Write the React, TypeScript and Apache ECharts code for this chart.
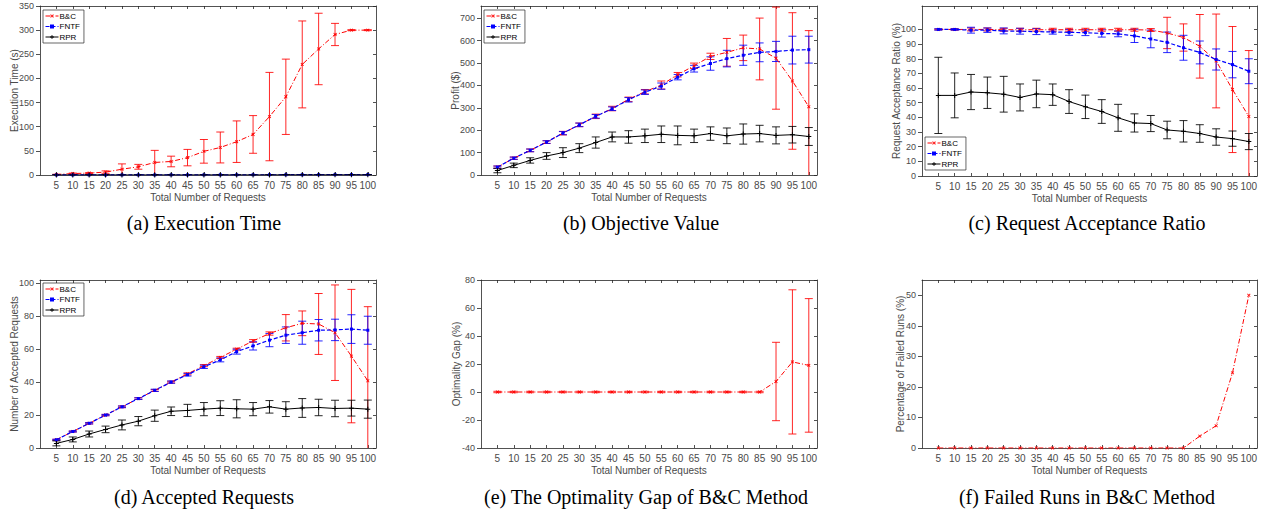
import React, { useEffect, useRef } from "react";
import * as echarts from "echarts";

// ---------------- data ----------------
const requests = [5, 10, 15, 20, 25, 30, 35, 40, 45, 50, 55, 60, 65, 70, 75, 80, 85, 90, 95, 100];

// (a) Execution time (s)
const execBC = [1, 3, 4, 6, 12, 17, 26, 28, 36, 49, 57, 69, 84, 121, 162, 229, 261, 291, 300, 300];
const execBCErr = [0.5, 1, 1, 2.5, 11, 5, 25, 11, 17, 24.5, 32, 43, 39, 91.5, 78, 90, 74, 23, 1, 1];
const execFNTF = [0.1, 0.1, 0.1, 0.1, 0.2, 0.2, 0.2, 0.3, 0.3, 0.3, 0.4, 0.4, 0.5, 0.5, 0.6, 0.6, 0.7, 0.8, 0.8, 0.9];
const execFNTFErr = [0, 0, 0, 0, 0, 0, 0, 0, 0, 0, 0, 0, 0, 0, 0, 0, 0, 0, 0, 0];
const execRPR = [0.05, 0.05, 0.05, 0.1, 0.1, 0.1, 0.1, 0.1, 0.1, 0.2, 0.2, 0.2, 0.2, 0.2, 0.3, 0.3, 0.3, 0.3, 0.3, 0.4];
const execRPRErr = [0, 0, 0, 0, 0, 0, 0, 0, 0, 0, 0, 0, 0, 0, 0, 0, 0, 0, 0, 0];

// (b) Profit ($)
const profitBC = [35, 75, 110, 147, 187, 224, 262, 297, 338, 372, 402, 448, 488, 530, 548, 568, 563, 522, 420, 305];
const profitBCErr = [5, 5, 6, 6, 8, 8, 10, 10, 10, 10, 18, 10, 12, 14, 62, 57, 138, 228, 305, 340];
const profitFNTF = [35, 75, 110, 147, 187, 224, 262, 296, 336, 370, 397, 437, 475, 498, 520, 535, 548, 552, 558, 560];
const profitFNTFErr = [5, 5, 6, 6, 7, 8, 8, 8, 10, 10, 14, 12, 15, 30, 37, 45, 42, 45, 62, 60];
const profitRPR = [20, 43, 65, 85, 100, 120, 145, 170, 170, 175, 182, 177, 175, 185, 175, 183, 185, 177, 180, 172];
const profitRPRErr = [10, 10, 12, 15, 22, 20, 25, 22, 28, 30, 37, 42, 30, 30, 35, 45, 37, 38, 37, 40];

// (c) Request acceptance ratio (%)
const ratioBC = [100, 100, 100, 100, 99.8, 99.8, 99.8, 99.8, 99.8, 99.8, 99.8, 99.8, 99.8, 99.6, 97.6, 94.5, 88.5, 78.5, 59, 40.6];
const ratioBCErr = [0.3, 0.5, 1, 1, 1, 1, 1, 1, 1, 1, 1, 1, 1, 1, 10.7, 9.3, 21.7, 32, 43, 45];
const ratioFNTF = [100, 100, 99.5, 99.5, 99, 98.8, 98.5, 98.3, 98, 97.8, 97.3, 97, 95.6, 93.5, 91.2, 87.5, 84.3, 79.5, 76, 71.5];
const ratioFNTFErr = [0.5, 0.5, 2, 1.5, 2, 2, 2, 1.5, 2, 2, 2.5, 2, 4.5, 6, 7, 8.5, 7.8, 7.2, 9, 8.5];
const ratioRPR = [55, 55, 57.3, 56.8, 55.8, 53.6, 56, 55.5, 50.8, 47.2, 44, 39.7, 36.2, 35.8, 31.4, 30.5, 29, 26.6, 25.5, 23.5];
const ratioRPRErr = [26, 15.3, 12, 10.7, 12.2, 9.2, 9.4, 7.3, 8.1, 8, 8.1, 9.2, 6.2, 5.5, 6, 7.3, 6, 5.6, 5.2, 5.5];

// (d) Number of accepted requests
const acceptBC = [5, 10, 15, 20, 25, 30, 35, 40, 45, 50, 55, 60, 65, 69.5, 73, 75.7, 75.3, 70, 55.8, 40.8];
const acceptBCErr = [0.3, 0.3, 0.4, 0.4, 0.5, 0.5, 0.5, 0.5, 0.6, 0.6, 0.6, 0.6, 0.8, 1, 8, 7.5, 18.5, 29, 40.5, 45];
const acceptFNTF = [5, 10, 15, 20, 25, 30, 35, 40, 44.5, 49.3, 53.5, 58.5, 62, 65.5, 68.5, 70, 71.5, 71.7, 72.2, 71.5];
const acceptFNTFErr = [0.3, 0.3, 0.4, 0.4, 0.5, 0.5, 0.7, 0.7, 0.8, 1, 1.2, 1.5, 2.5, 4, 5, 7, 6.5, 6.5, 8.7, 8.5];
const acceptRPR = [2.8, 5.2, 8.5, 11.3, 14, 16.3, 19.6, 22.3, 22.8, 23.6, 24.2, 23.8, 23.6, 25, 23.6, 24.3, 24.6, 24, 24.2, 23.6];
const acceptRPRErr = [1.5, 1.5, 1.8, 2, 3, 2.8, 3.4, 2.6, 3.7, 4, 4.5, 5.5, 4, 3.8, 4.5, 5.7, 5, 5, 4.8, 5.5];

// (e) Optimality gap (%)
const gapBC = [0, 0, 0, 0, 0, 0, 0, 0, 0, 0, 0, 0, 0, 0, 0, 0, 0, 7.5, 21.5, 19];
const gapBCErr = [0.5, 0.5, 0.5, 0.5, 0.5, 0.5, 0.5, 0.5, 0.5, 0.5, 0.5, 0.5, 0.5, 0.5, 0.5, 0.5, 0.5, 28, 51.5, 47.7];

// (f) Failed runs (%)
const failedBC = [0, 0, 0, 0, 0, 0, 0, 0, 0, 0, 0, 0, 0, 0, 0, 0, 3.9, 7.3, 24.6, 50];

// tick labels
const ticksA = [0, 50, 100, 150, 200, 250, 300, 350];
const ticksB = [0, 100, 200, 300, 400, 500, 600, 700];
const ticksC = [0, 10, 20, 30, 40, 50, 60, 70, 80, 90, 100];
const ticksD = [0, 20, 40, 60, 80, 100];
const ticksE = [-40, -20, 0, 20, 40, 60, 80];
const ticksF = [0, 10, 20, 30, 40, 50];

const legendNames = ["B&C", "FNTF", "RPR"];

// ---------------- styles ----------------
const AXIS_COLOR = "#262626";
const LABEL_COLOR = "#4a4a4a";
const SANS = "'Liberation Sans', Arial, Helvetica, sans-serif";
const SERIF = "'Liberation Serif', 'Times New Roman', serif";
const PLUS = "path://M4,0L6,0L6,4L10,4L10,6L6,6L6,10L4,10L4,6L0,6L0,4L4,4Z";

const styleOf: Record<string, any> = {
  "B&C": { color: "#ff0000", dash: [5, 2, 1, 2], symbol: PLUS, rotate: 45, size: 4, width: 1 },
  FNTF: { color: "#0000ff", dash: [4, 2], symbol: "rect", rotate: 0, size: 3, width: 1.2 },
  RPR: { color: "#000000", dash: "solid", symbol: PLUS, rotate: 0, size: 5, width: 1 },
};

type S = { name: string; values: number[]; errors?: number[] };

const panels: any[] = [
  {
    grid: { left: 40, top: 6, width: 336, height: 169 },
    yMin: 0, yMax: 350, yTicks: ticksA, yName: "Execution Time (s)", yGap: 21,
    caption: "(a) Execution Time", capX: 204, capY: 223,
    legend: { left: 43, top: 10 },
    series: [
      { name: "B&C", values: execBC, errors: execBCErr },
      { name: "FNTF", values: execFNTF, errors: execFNTFErr },
      { name: "RPR", values: execRPR, errors: execRPRErr },
    ] as S[],
  },
  {
    grid: { left: 481, top: 6, width: 336, height: 169 },
    yMin: 0, yMax: 755, yTicks: ticksB, yName: "Profit ($)", yGap: 21,
    caption: "(b) Objective Value", capX: 641, capY: 223,
    legend: { left: 484, top: 10 },
    series: [
      { name: "B&C", values: profitBC, errors: profitBCErr },
      { name: "FNTF", values: profitFNTF, errors: profitFNTFErr },
      { name: "RPR", values: profitRPR, errors: profitRPRErr },
    ] as S[],
  },
  {
    grid: { left: 922, top: 6, width: 335, height: 170 },
    yMin: 0, yMax: 116, yTicks: ticksC, yName: "Request Acceptance Ratio (%)", yGap: 21,
    caption: "(c) Request Acceptance Ratio", capX: 1087, capY: 223,
    legend: { left: 925, top: 137 },
    series: [
      { name: "B&C", values: ratioBC, errors: ratioBCErr },
      { name: "FNTF", values: ratioFNTF, errors: ratioFNTFErr },
      { name: "RPR", values: ratioRPR, errors: ratioRPRErr },
    ] as S[],
  },
  {
    grid: { left: 40, top: 280, width: 336, height: 168 },
    yMin: 0, yMax: 102, yTicks: ticksD, yName: "Number of Accepted Requests", yGap: 21,
    caption: "(d) Accepted Requests", capX: 204, capY: 497,
    legend: { left: 43, top: 283 },
    series: [
      { name: "B&C", values: acceptBC, errors: acceptBCErr },
      { name: "FNTF", values: acceptFNTF, errors: acceptFNTFErr },
      { name: "RPR", values: acceptRPR, errors: acceptRPRErr },
    ] as S[],
  },
  {
    grid: { left: 481, top: 280, width: 336, height: 168 },
    yMin: -40, yMax: 80, yTicks: ticksE, yName: "Optimality Gap (%)", yGap: 19.5,
    caption: "(e) The Optimality Gap of B&C Method", capX: 646, capY: 497,
    legend: null,
    series: [{ name: "B&C", values: gapBC, errors: gapBCErr }] as S[],
  },
  {
    grid: { left: 922, top: 280, width: 335, height: 168 },
    yMin: 0, yMax: 55, yTicks: ticksF, yName: "Percentage of Failed Runs (%)", yGap: 16.5,
    caption: "(f) Failed Runs in B&C Method", capX: 1087, capY: 497,
    legend: null,
    series: [{ name: "B&C", values: failedBC }] as S[],
  },
];

function makeErrRenderer(color: string) {
  return (params: any, api: any) => {
    const x = api.value(0);
    const lo = api.value(1);
    const hi = api.value(2);
    const a = api.coord([x, lo]);
    const b = api.coord([x, hi]);
    const w = 4;
    const style = { stroke: color, lineWidth: 1, opacity: 0.85 };
    return {
      type: "group",
      children: [
        { type: "line", shape: { x1: a[0], y1: a[1], x2: b[0], y2: b[1] }, style },
        { type: "line", shape: { x1: a[0] - w, y1: a[1], x2: a[0] + w, y2: a[1] }, style },
        { type: "line", shape: { x1: b[0] - w, y1: b[1], x2: b[0] + w, y2: b[1] }, style },
      ],
    };
  };
}

function buildOption() {
  const grid: any[] = [];
  const xAxis: any[] = [];
  const yAxis: any[] = [];
  const series: any[] = [];
  const legend: any[] = [];
  const graphic: any[] = [];

  const lineStyle = { color: AXIS_COLOR, width: 0.8 };

  panels.forEach((p, i) => {
    grid.push({ ...p.grid, containLabel: false });
    xAxis.push({
      type: "value", gridIndex: i, min: 0, max: 102.5, position: "bottom",
      axisLine: { show: true, onZero: false, lineStyle },
      axisTick: { show: true, inside: true, length: 3, customValues: requests, lineStyle },
      axisLabel: { customValues: requests, fontSize: 10, color: LABEL_COLOR, fontFamily: SANS, margin: 5 },
      splitLine: { show: false },
      name: "Total Number of Requests", nameLocation: "middle", nameGap: 17, nameMoveOverlap: false,
      nameTextStyle: { fontSize: 10, color: LABEL_COLOR, fontFamily: SANS },
    });
    xAxis.push({
      type: "value", gridIndex: i, min: 0, max: 102.5, position: "top",
      axisLine: { show: true, onZero: false, lineStyle },
      axisTick: { show: true, inside: true, length: 3, customValues: requests, lineStyle },
      axisLabel: { show: false },
      splitLine: { show: false },
    });
    yAxis.push({
      type: "value", gridIndex: i, min: p.yMin, max: p.yMax, position: "left",
      axisLine: { show: true, onZero: false, lineStyle },
      axisTick: { show: true, inside: false, length: 4, customValues: p.yTicks, lineStyle },
      axisLabel: { customValues: p.yTicks, fontSize: 9, color: LABEL_COLOR, fontFamily: SANS, margin: 6 },
      splitLine: { show: false },
      name: p.yName, nameLocation: "middle", nameGap: p.yGap, nameMoveOverlap: false,
      nameTextStyle: { fontSize: 10, color: LABEL_COLOR, fontFamily: SANS },
    });
    yAxis.push({
      type: "value", gridIndex: i, min: p.yMin, max: p.yMax, position: "right",
      axisLine: { show: true, onZero: false, lineStyle },
      axisTick: { show: true, inside: true, length: 3, customValues: p.yTicks, lineStyle },
      axisLabel: { show: false },
      splitLine: { show: false },
    });

    (p.series as S[]).forEach((s) => {
      const st = styleOf[s.name];
      if (s.errors) {
        series.push({
          type: "custom",
          name: s.name + " error",
          xAxisIndex: i * 2,
          yAxisIndex: i * 2,
          data: requests.map((x, k) => [x, s.values[k] - s.errors![k], s.values[k] + s.errors![k]]),
          encode: { x: 0, y: [1, 2] },
          renderItem: makeErrRenderer(st.color),
          clip: true,
          silent: true,
          z: 2,
        });
      }
      series.push({
        type: "line",
        name: s.name,
        xAxisIndex: i * 2,
        yAxisIndex: i * 2,
        data: requests.map((x, k) => [x, s.values[k]]),
        showSymbol: true,
        symbol: st.symbol,
        symbolSize: st.size,
        symbolRotate: st.rotate,
        lineStyle: { color: st.color, width: st.width, type: st.dash },
        itemStyle: { color: st.color },
        clip: true,
        silent: true,
        z: 3,
      });
    });

    if (p.legend) {
      legend.push({
        show: true,
        orient: "vertical",
        left: p.legend.left,
        top: p.legend.top,
        data: legendNames,
        itemWidth: 13,
        itemHeight: 5,
        itemGap: 2.5,
        padding: [2, 4, 2, 2],
        borderColor: AXIS_COLOR,
        borderWidth: 0.7,
        backgroundColor: "#ffffff",
        selectedMode: false,
        lineStyle: { width: 1 },
        textStyle: { fontSize: 8, color: "#000", fontFamily: SANS, padding: [0, 0, 0, -4] },
      });
    }

    graphic.push({
      type: "text",
      x: p.capX,
      y: p.capY,
      style: {
        text: p.caption,
        fontSize: 20,
        fontFamily: SERIF,
        fill: "#000",
        textAlign: "center",
        textVerticalAlign: "middle",
      },
    });
  });

  return {
    animation: false,
    backgroundColor: "#ffffff",
    grid,
    xAxis,
    yAxis,
    series,
    legend,
    graphic,
  };
}

export default function App() {
  const ref = useRef<HTMLDivElement>(null);
  useEffect(() => {
    if (!ref.current) return;
    const chart = echarts.init(ref.current, undefined, { renderer: "svg" });
    chart.setOption(buildOption() as any);
    return () => chart.dispose();
  }, []);
  return (
    <div
      ref={ref}
      style={{ position: "absolute", left: 0, top: 0, width: 1265, height: 512, background: "#fff" }}
    />
  );
}
